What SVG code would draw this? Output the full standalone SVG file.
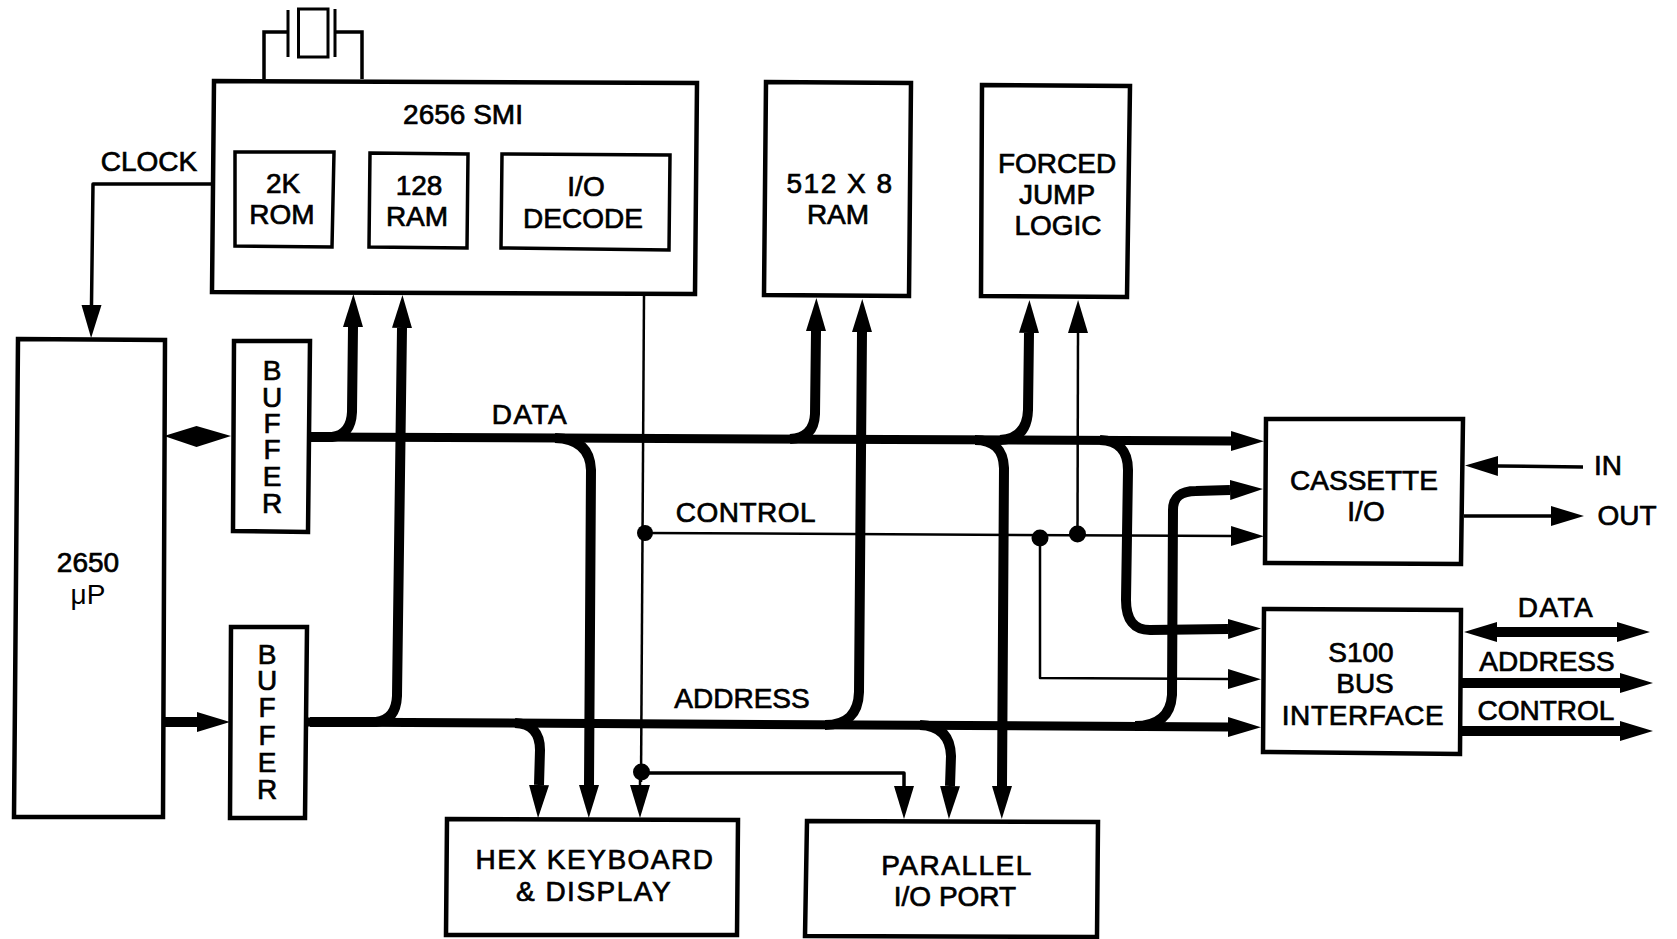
<svg xmlns="http://www.w3.org/2000/svg" width="1677" height="939" viewBox="0 0 1677 939">
<style>
text{font-family:"Liberation Sans",Arial,sans-serif;font-size:28px;fill:#000;stroke:#000;stroke-width:.7;text-anchor:middle}
.box{fill:#fff;stroke:#000;stroke-width:4.5;stroke-linejoin:miter}
.in{fill:#fff;stroke:#000;stroke-width:3.5}
.bus,.br,.thin,.clk{fill:none;stroke:#000;stroke-linejoin:round}
.bus{stroke-width:9}
.br{stroke-width:10}
.thin{stroke-width:2.5}
.clk{stroke-width:3.5}
.a{marker-end:url(#h)}
.dot{fill:#000}
.l{letter-spacing:1.5px}
.mu{stroke-width:0}
</style>
<defs>
<marker id="h" markerUnits="userSpaceOnUse" markerWidth="36" markerHeight="24" refX="0" refY="12" orient="auto-start-reverse"><path d="M0,2L33,12L0,22Z" fill="#000"/></marker>
</defs>
<rect width="1677" height="939" fill="#fff"/>
<g id="connectors">
<path class="clk a" d="M213,184H93L91.500,305"/>
<path class="bus a" d="M311,437L1231,441"/>
<path class="bus a" d="M307,722L1228,727"/>
<path class="br a" d="M311,437H332Q351,435 352,412L353,327"/>
<path class="br a" d="M310,722H376Q396,720 397,696L402,328"/>
<path class="br a" d="M555,438Q590,439 591,470L589,785"/>
<path class="br a" d="M515,723Q540,724 540,750L539,785"/>
<path class="br a" d="M790,439Q814,438 815,414L816,331"/>
<path class="br a" d="M825,725Q858,725 859,692L862,332"/>
<path class="br a" d="M920,725Q950,726 951,756L950,786"/>
<path class="br a" d="M975,440Q1003,440 1004,468L1002,786"/>
<path class="br a" d="M1000,440Q1027,439 1028,410L1029,333"/>
<path class="br a" d="M1100,440Q1128,441 1128,470L1126,600Q1126,630 1150,630L1228,629"/>
<path class="br a" d="M1135,726Q1170,726 1172,695L1173,510Q1173,491 1196,491L1230,490"/>
<path class="thin" d="M644,294L641,782"/>
<path class="thin a" d="M640,770L640,785"/>
<path class="clk a" d="M641,773H904V786"/>
<path class="thin a" d="M645,533L1231,536"/>
<path class="thin a" d="M1077.500,534L1078,333"/>
<path class="thin a" d="M1040,538V678L1228,679"/>
<path class="clk a" d="M1583,467L1498,466"/>
<path class="clk a" d="M1464,516L1551,516"/>
<path class="br" d="M1497,632H1617" marker-start="url(#h)" marker-end="url(#h)"/>
<path class="br a" d="M1461,683H1620"/>
<path class="br a" d="M1460,731H1620"/>
<path class="br a" d="M163,722H197"/>
<polygon class="dot" points="164,436 196.500,426 231,436 196.500,447"/>
<circle class="dot" cx="645" cy="533" r="8"/>
<circle class="dot" cx="1040" cy="538" r="8.500"/>
<circle class="dot" cx="1077.500" cy="534" r="8.500"/>
<circle class="dot" cx="641.500" cy="772" r="8.500"/>
</g>
<g id="crystal" fill="none" stroke="#000" stroke-width="3">
<path d="M264,79V32H288M362,79V32H335" stroke-width="3.500"/>
<path d="M288,10V57M335,9V57"/>
<rect x="298.500" y="9" width="29.500" height="48"/>
</g>
<g id="smi">
<polygon class="box" points="214,81 697,83 695,294 212,292"/>
<text x="463" y="124">2656 SMI</text>
</g>
<g id="rom">
<polygon class="in" points="235,152 334,152 332,247 235,246"/>
<text x="283" y="193">2K</text><text x="282" y="224">ROM</text>
</g>
<g id="ram128">
<polygon class="in" points="370,153 468,154 467,248 369,247"/>
<text x="419" y="195">128</text><text x="417" y="226">RAM</text>
</g>
<g id="decode">
<polygon class="in" points="502,154 670,155 669,250 501,248"/>
<text x="586" y="196">I/O</text><text x="583" y="228">DECODE</text>
</g>
<g id="clock-label"><text x="149" y="171">CLOCK</text></g>
<g id="cpu">
<polygon class="box" points="18,339 165,340 163,817 14,817"/>
<text x="88" y="572" stroke-width="1">2650</text>
<text x="88" y="604" class="mu">μP</text>
</g>
<g id="buffer-data">
<polygon class="box" points="234,341 310,341 308,532 233,531"/>
<text x="272" y="380">B</text><text x="272" y="407">U</text><text x="272" y="433">F</text><text x="272" y="459">F</text><text x="272" y="486">E</text><text x="272" y="513">R</text>
</g>
<g id="buffer-address">
<polygon class="box" points="231,627 307,627 305,818 230,818"/>
<text x="267" y="664">B</text><text x="267" y="690">U</text><text x="267" y="717">F</text><text x="267" y="745">F</text><text x="267" y="772">E</text><text x="267" y="799">R</text>
</g>
<g id="ram512">
<polygon class="box" points="766,82 911,83 909,296 764,295"/>
<text class="l" x="840" y="193">512 X 8</text><text x="838" y="224">RAM</text>
</g>
<g id="forced-jump">
<polygon class="box" points="982,85 1130,86 1127,297 981,296"/>
<text x="1057" y="173">FORCED</text><text x="1057" y="204">JUMP</text><text x="1058" y="235">LOGIC</text>
</g>
<g id="cassette">
<polygon class="box" points="1266,419 1463,419 1461,564 1265,563"/>
<text x="1364" y="490">CASSETTE</text><text x="1366" y="521">I/O</text>
</g>
<g id="s100">
<polygon class="box" points="1264,609 1461,610 1460,754 1263,752"/>
<text x="1361" y="662">S100</text><text x="1365" y="693">BUS</text><text class="l" x="1363" y="725" style="letter-spacing:.6px">INTERFACE</text>
</g>
<g id="hex">
<polygon class="box" points="447,819 738,820 737,935 446,935"/>
<text class="l" x="595" y="869">HEX KEYBOARD</text><text class="l" x="594" y="901">&amp; DISPLAY</text>
</g>
<g id="parallel">
<polygon class="box" points="807,821 1098,822 1097,937 805,936"/>
<text class="l" x="957" y="875">PARALLEL</text><text x="955" y="906">I/O PORT</text>
</g>
<g id="labels">
<text class="l" x="530" y="424">DATA</text>
<text style="letter-spacing:.5px" x="746" y="522">CONTROL</text>
<text x="742" y="708">ADDRESS</text>
<text x="1608" y="475">IN</text>
<text x="1627" y="525">OUT</text>
<text class="l" x="1556" y="617">DATA</text>
<text x="1547" y="671">ADDRESS</text>
<text x="1546" y="720">CONTROL</text>
</g>
</svg>
